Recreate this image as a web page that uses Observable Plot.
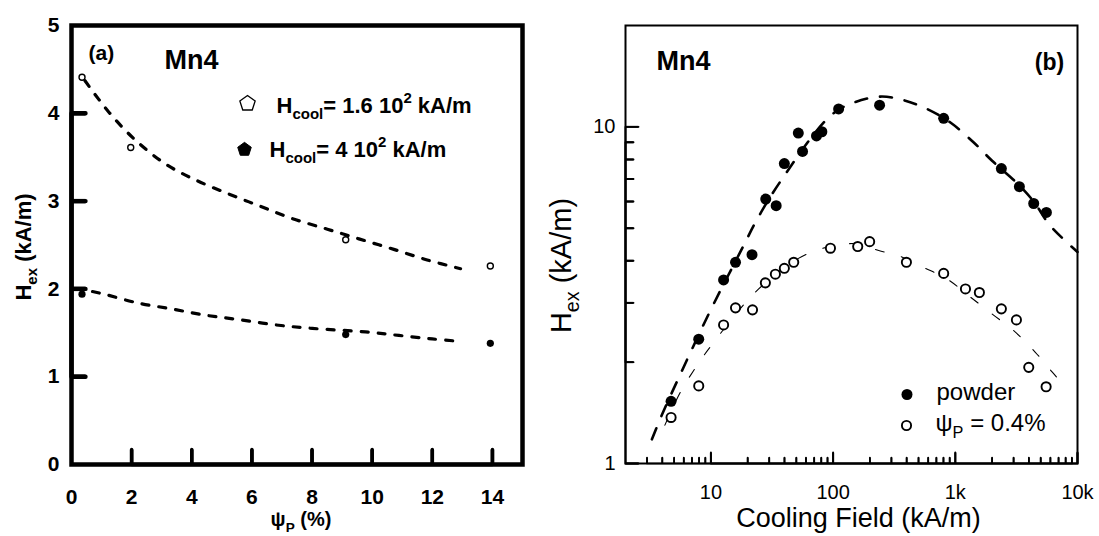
<!DOCTYPE html>
<html><head><meta charset="utf-8">
<script src="https://cdn.jsdelivr.net/npm/d3@7"></script>
<script src="https://cdn.jsdelivr.net/npm/@observablehq/plot@0.6"></script>
<style>
body{margin:0;background:#fff;}
#wrap{position:relative;width:1099px;height:536px;overflow:hidden;background:#fff;}
#pa,#pb{position:absolute;top:0;}
#pa{left:0;} #pb{left:550px;}
</style></head><body>
<div id="wrap"><div id="pa"></div><div id="pb"></div></div>
<script>
// ---------- Panel (a) data ----------
const aXDomain = [0, 15];
const aYDomain = [0, 5];
const aXTickLabels = [0, 2, 4, 6, 8, 10, 12, 14];
const aXTickMarks = [2, 4, 6, 8, 10, 12, 14];
const aYTickLabels = [0, 1, 2, 3, 4, 5];
const aYTickMarks = [1, 2, 3, 4];
const aOpenX = [0.35, 1.97, 9.12, 13.93];
const aOpenY = [4.41, 3.61, 2.56, 2.26];
const aFillX = [0.35, 9.12, 13.93];
const aFillY = [1.94, 1.48, 1.38];
const aFitOpenX = [0.45, 1.25, 2.14, 3.14, 4.13, 5.24, 6.29, 7.35, 8.51, 9.56, 10.72, 11.83, 12.94];
const aFitOpenY = [4.37, 4.01, 3.69, 3.42, 3.24, 3.08, 2.94, 2.80, 2.68, 2.57, 2.45, 2.33, 2.23];
const aFitFillX = [0.7, 1.09, 2.20, 3.36, 4.47, 5.57, 6.79, 8.01, 9.78, 10.89, 12.0, 12.99];
const aFitFillY = [1.97, 1.94, 1.84, 1.77, 1.70, 1.65, 1.59, 1.55, 1.51, 1.47, 1.43, 1.40];
const aLegend = ["H_{cool}= 1.6 10^{2} kA/m", "H_{cool}= 4 10^{2} kA/m"];
const aYLabel = "H_{ex} (kA/m)";
const aXLabel = "ψ_{P} (%)";

// ---------- Panel (b) data ----------
const bXDomain = [2, 10000];
const bYDomain = [1, 20];
const bXMajor = [10, 100, 1000, 10000];
const bXMajorLabels = ["10", "100", "1k", "10k"];
const bXMinor = [3,4,5,6,7,8,9,20,30,40,50,60,70,80,90,200,300,400,500,600,700,800,900,2000,3000,4000,5000,6000,7000,8000,9000];
const bYMajor = [1, 10];
const bYMajorLabels = ["1", "10"];
const bYMinor = [2,3,4,5,6,7,8,9];
const powderX = [4.72, 7.95, 12.7, 15.9, 21.7, 28.1, 34.2, 39.9, 51.9, 56.2, 73.1, 80.9, 111, 240, 803, 2382, 3345, 4381, 5564];
const powderY = [1.53, 2.34, 3.51, 3.96, 4.17, 6.10, 5.83, 7.78, 9.58, 8.45, 9.40, 9.67, 11.3, 11.6, 10.6, 7.52, 6.64, 5.92, 5.57];
const psiX = [4.72, 7.95, 12.7, 15.9, 21.9, 27.9, 33.7, 39.9, 47.6, 95.1, 159, 199, 398, 803, 1211, 1574, 2382, 3163, 3990, 5535];
const psiY = [1.37, 1.70, 2.58, 2.90, 2.86, 3.44, 3.65, 3.80, 3.96, 4.36, 4.41, 4.56, 3.96, 3.67, 3.30, 3.22, 2.88, 2.67, 1.93, 1.69];
const fitPowderX = [3.29, 3.99, 5.81, 7.02, 10.2, 19.1, 23.1, 36.5, 95.5, 147.5, 244, 378, 588, 912, 1416, 2000, 3345, 4381, 6000, 10000];
const fitPowderY = [1.18, 1.40, 1.89, 2.19, 2.91, 4.54, 5.20, 6.83, 10.8, 11.8, 12.3, 12.0, 11.3, 10.3, 8.98, 7.93, 6.70, 6.00, 5.08, 4.25];
const fitPsiX = [4.2, 5.63, 7.23, 9.6, 24.6, 61.2, 150, 236, 344, 551, 857, 1288, 2000, 3006, 4518, 6194, 7000];
const fitPsiY = [1.30, 1.63, 1.89, 2.19, 3.30, 4.19, 4.50, 4.29, 4.14, 3.82, 3.53, 3.15, 2.78, 2.48, 2.14, 1.87, 1.78];
const bLegend = ["powder", "ψ_{P} = 0.4%"];
const bYLabel = "H_{ex} (kA/m)";
const bXLabel = "Cooling Field (kA/m)";

const zip = (xs, ys) => xs.map((x, i) => ({x, y: ys[i]}));
// comb paths (one polyline per axis) tracing the inward tick marks from the tick arrays
const combX = (vals, y0, y1) => vals.flatMap(v => [{x: v, y: y0}, {x: v, y: y1}, {x: v, y: y0}]);
const combY = (vals, x0, x1) => vals.flatMap(v => [{x: x0, y: v}, {x: x1, y: v}, {x: x0, y: v}]);
const pts = (xs, yv) => xs.map(x => ({x, y: yv}));
const ptsY = (ys, xv) => ys.map(y => ({x: xv, y}));

const pentagon = {
  draw(ctx, size) {
    const r = Math.sqrt(size / Math.PI) * 1.15;
    for (let i = 0; i < 5; i++) {
      const a = -Math.PI / 2 + i * 2 * Math.PI / 5;
      const px = r * Math.cos(a), py = r * Math.sin(a);
      if (i) ctx.lineTo(px, py); else ctx.moveTo(px, py);
    }
    ctx.closePath();
  }
};
const barUp = w => ({draw(ctx, size) { const L = Math.sqrt(size / Math.PI); ctx.rect(-w / 2, -L, w, L); }});
const barRight = w => ({draw(ctx, size) { const L = Math.sqrt(size / Math.PI); ctx.rect(0, -w / 2, L, w); }});

function rich(svg) {
  d3.select(svg).selectAll("text").each(function() {
    const s = this.textContent;
    if (!/[_^]\{/.test(s)) return;
    const fs = parseFloat(getComputedStyle(this).fontSize) || 16;
    const parts = [];
    const re = /([_^])\{([^}]*)\}/g;
    let last = 0, m;
    while ((m = re.exec(s))) {
      if (m.index > last) parts.push({t: s.slice(last, m.index)});
      parts.push({t: m[2], k: m[1]});
      last = re.lastIndex;
    }
    if (last < s.length) parts.push({t: s.slice(last)});
    const el = d3.select(this);
    el.text(null);
    let cur = 0;
    for (const p of parts) {
      const target = p.k === "_" ? 0.3 * fs : p.k === "^" ? -0.42 * fs : 0;
      const t = el.append("tspan").text(p.t);
      if (p.k) t.attr("font-size", (0.68 * fs).toFixed(1));
      if (target !== cur) { t.attr("dy", (target - cur).toFixed(1)); cur = target; }
    }
  });
}

// ---------- Panel (a) ----------
const aW = 550, aH = 536, aML = 71, aMR = 28, aMT = 25, aMB = 72;
const aFW = aW - aML - aMR, aFH = aH - aMT - aMB;
const aPxX = px => px * (aXDomain[1] - aXDomain[0]) / aFW;
const aPxY = px => px * (aYDomain[1] - aYDomain[0]) / aFH;
const fA = {fontWeight: "bold", lineAnchor: "middle"};
const plotA = Plot.plot({
  width: aW, height: aH,
  marginLeft: aML, marginRight: aMR, marginTop: aMT, marginBottom: aMB,
  x: {domain: aXDomain},
  y: {domain: aYDomain},
  style: {fontFamily: "'Liberation Sans', Arial, sans-serif", fontSize: "21px", fontWeight: "bold", background: "transparent", overflow: "visible", color: "#000"},
  marks: [
    Plot.axisX(aXTickLabels, {tickSize: 0, tickPadding: 25, label: null, tickFormat: d => String(d), fontSize: 21, fontWeight: "bold"}),
    Plot.axisY(aYTickLabels, {tickSize: 0, tickPadding: 12, label: null, tickFormat: d => String(d), fontSize: 21, fontWeight: "bold"}),
    Plot.line(combX(aXTickMarks, aYDomain[0], aYDomain[0] + aPxY(15)), {x: "x", y: "y", stroke: "#000", strokeWidth: 3.5}),
    Plot.line(combY(aYTickMarks, aXDomain[0], aXDomain[0] + aPxX(14)), {x: "x", y: "y", stroke: "#000", strokeWidth: 4.4}),
    Plot.line(zip(aFitOpenX, aFitOpenY), {x: "x", y: "y", curve: "catmull-rom", stroke: "#000", strokeWidth: 3.2, strokeDasharray: "7,10"}),
    Plot.line(zip(aFitFillX, aFitFillY), {x: "x", y: "y", curve: "catmull-rom", stroke: "#000", strokeWidth: 3.2, strokeDasharray: "7,10"}),
    Plot.dot(zip(aOpenX, aOpenY), {x: "x", y: "y", r: 3, fill: "#fff", stroke: "#000", strokeWidth: 1.4}),
    Plot.dot(zip(aFillX, aFillY), {x: "x", y: "y", r: 3.6, fill: "#000", stroke: "none"}),
    Plot.frame({stroke: "#000", strokeWidth: 4.5}),
    Plot.text(["(a)"], {text: d => d, frameAnchor: "top-left", textAnchor: "start", dx: 17, dy: 28, fontSize: 21, ...fA}),
    Plot.text(["Mn4"], {text: d => d, frameAnchor: "top-left", textAnchor: "middle", dx: 120, dy: 35, fontSize: 27, ...fA}),
    Plot.dot([0], {frameAnchor: "top-left", dx: 176, dy: 78, symbol: pentagon, r: 7, fill: "#fff", stroke: "#000", strokeWidth: 1.3}),
    Plot.dot([0], {frameAnchor: "top-left", dx: 173, dy: 124, symbol: pentagon, r: 6.2, fill: "#000", stroke: "#000", strokeWidth: 1}),
    Plot.text([aLegend[0]], {text: d => d, frameAnchor: "top-left", textAnchor: "start", dx: 205, dy: 80, fontSize: 22, ...fA}),
    Plot.text([aLegend[1]], {text: d => d, frameAnchor: "top-left", textAnchor: "start", dx: 198, dy: 124, fontSize: 22, ...fA}),
    Plot.text([aYLabel], {text: d => d, frameAnchor: "left", rotate: -90, textAnchor: "middle", dx: -48, dy: 2, fontSize: 22, ...fA}),
    Plot.text([aXLabel], {text: d => d, frameAnchor: "bottom", textAnchor: "middle", dx: 4, dy: 55, fontSize: 20, ...fA}),
    Plot.dot(pts(aXTickMarks, aYDomain[0]), {x: "x", y: "y", symbol: barUp(3.5), r: 15, fill: "#000", stroke: "none"}),
    Plot.dot(ptsY(aYTickMarks, aXDomain[0]), {x: "x", y: "y", symbol: barRight(4.4), r: 14, fill: "#000", stroke: "none"})
  ]
});
document.getElementById("pa").appendChild(plotA);
rich(plotA);

// ---------- Panel (b) ----------
const bW = 549, bH = 536, bML = 75, bMR = 22, bMT = 25, bMB = 73;
const bFW = bW - bML - bMR, bFH = bH - bMT - bMB;
const bMulX = px => Math.pow(bXDomain[1] / bXDomain[0], px / bFW);
const bMulY = px => Math.pow(bYDomain[1] / bYDomain[0], px / bFH);
const bxFmt = new Map(bXMajor.map((v, i) => [v, bXMajorLabels[i]]));
const byFmt = new Map(bYMajor.map((v, i) => [v, bYMajorLabels[i]]));
const fB = {lineAnchor: "middle"};
const plotB = Plot.plot({
  width: bW, height: bH,
  marginLeft: bML, marginRight: bMR, marginTop: bMT, marginBottom: bMB,
  x: {type: "log", domain: bXDomain},
  y: {type: "log", domain: bYDomain},
  style: {fontFamily: "'Liberation Sans', Arial, sans-serif", fontSize: "20px", background: "transparent", overflow: "visible", color: "#000"},
  marks: [
    Plot.axisX(bXMajor, {tickSize: 0, tickPadding: 21, label: null, tickFormat: d => bxFmt.get(d), fontSize: 20}),
    Plot.axisY(bYMajor, {tickSize: 0, tickPadding: 10, label: null, tickFormat: d => byFmt.get(d), fontSize: 20}),
    Plot.line(combX(bXMinor, bYDomain[0], bYDomain[0] * bMulY(6)), {x: "x", y: "y", stroke: "#000", strokeWidth: 1.7}),
    Plot.line(combX(bXMajor, bYDomain[0], bYDomain[0] * bMulY(11)), {x: "x", y: "y", stroke: "#000", strokeWidth: 1.9}),
    Plot.line(combY(bYMinor, bXDomain[0], bXDomain[0] * bMulX(8)), {x: "x", y: "y", stroke: "#000", strokeWidth: 1.9}),
    Plot.line(combY(bYMajor, bXDomain[0], bXDomain[0] * bMulX(13)), {x: "x", y: "y", stroke: "#000", strokeWidth: 1.9}),
    Plot.line(zip(fitPowderX, fitPowderY), {x: "x", y: "y", curve: "catmull-rom", stroke: "#000", strokeWidth: 2.6, strokeDasharray: "12,13"}),
    Plot.line(zip(fitPsiX, fitPsiY), {x: "x", y: "y", curve: "catmull-rom", stroke: "#000", strokeWidth: 1.1, strokeDasharray: "9,18"}),
    Plot.dot(zip(psiX, psiY), {x: "x", y: "y", r: 4.6, fill: "#fff", stroke: "#000", strokeWidth: 1.9}),
    Plot.dot(zip(powderX, powderY), {x: "x", y: "y", r: 5.5, fill: "#000", stroke: "none"}),
    Plot.frame({stroke: "#000", strokeWidth: 2}),
    Plot.text(["Mn4"], {text: d => d, frameAnchor: "top-left", textAnchor: "middle", dx: 58, dy: 36, fontSize: 27, fontWeight: "bold", ...fB}),
    Plot.text(["(b)"], {text: d => d, frameAnchor: "top-right", textAnchor: "middle", dx: -28, dy: 37, fontSize: 23, fontWeight: "bold", ...fB}),
    Plot.dot([0], {frameAnchor: "top-left", dx: 281.5, dy: 369, r: 5.5, fill: "#000", stroke: "none"}),
    Plot.dot([0], {frameAnchor: "top-left", dx: 281, dy: 400, r: 4.6, fill: "#fff", stroke: "#000", strokeWidth: 1.9}),
    Plot.text([bLegend[0]], {text: d => d, frameAnchor: "top-left", textAnchor: "start", dx: 311, dy: 367, fontSize: 24, ...fB}),
    Plot.text([bLegend[1]], {text: d => d, frameAnchor: "top-left", textAnchor: "start", dx: 310, dy: 398, fontSize: 24, ...fB}),
    Plot.text([bYLabel], {text: d => d, frameAnchor: "left", rotate: -90, textAnchor: "middle", dx: -64, dy: 21, fontSize: 29, ...fB}),
    Plot.text([bXLabel], {text: d => d, frameAnchor: "bottom", textAnchor: "middle", dx: 7, dy: 55, fontSize: 27, ...fB}),
    Plot.dot(pts(bXMinor, bYDomain[0]), {x: "x", y: "y", symbol: barUp(1.8), r: 6, fill: "#000", stroke: "none"}),
    Plot.dot(pts(bXMajor, bYDomain[0]), {x: "x", y: "y", symbol: barUp(2), r: 11, fill: "#000", stroke: "none"}),
    Plot.dot(ptsY(bYMinor, bXDomain[0]), {x: "x", y: "y", symbol: barRight(2), r: 8, fill: "#000", stroke: "none"}),
    Plot.dot(ptsY(bYMajor, bXDomain[0]), {x: "x", y: "y", symbol: barRight(2), r: 13, fill: "#000", stroke: "none"})
  ]
});
document.getElementById("pb").appendChild(plotB);
rich(plotB);
</script>
</body></html>
